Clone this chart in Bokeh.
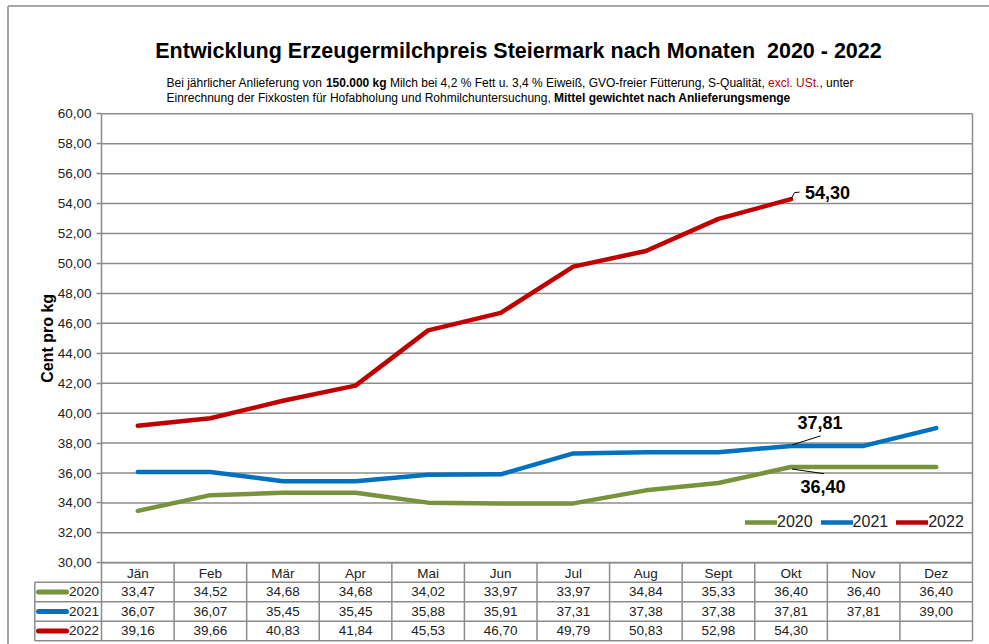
from bokeh.plotting import figure
from bokeh.models import (Range1d, FixedTicker, CustomJSTickFormatter, Label, Legend,
                          LegendItem, LinearAxis, ColumnDataSource)
from bokeh.core.properties import value
from bokeh.embed import file_html
from bokeh.resources import INLINE
import math

# ---------------- data ----------------
months = ["Jän", "Feb", "Mär", "Apr", "Mai", "Jun", "Jul", "Aug", "Sept", "Okt", "Nov", "Dez"]
years = ["2020", "2021", "2022"]
p2020 = [33.47, 34.52, 34.68, 34.68, 34.02, 33.97, 33.97, 34.84, 35.33, 36.40, 36.40, 36.40]
p2021 = [36.07, 36.07, 35.45, 35.45, 35.88, 35.91, 37.31, 37.38, 37.38, 37.81, 37.81, 39.00]
p2022 = [39.16, 39.66, 40.83, 41.84, 45.53, 46.70, 49.79, 50.83, 52.98, 54.30]
y_ticks = list(range(30, 62, 2))
title_text = "Entwicklung Erzeugermilchpreis Steiermark nach Monaten\u00a0 2020 - 2022"
sub1 = [("Bei jährlicher Anlieferung von ", "normal", "black"),
        ("150.000 kg", "bold", "black"),
        (" Milch bei 4,2 % Fett u. 3,4 % Eiweiß, GVO-freier Fütterung, S-Qualität, ", "normal", "black"),
        ("excl. USt.", "normal", "#C00000"),
        (", unter", "normal", "black")]
sub2 = [("Einrechnung der Fixkosten für Hofabholung und Rohmilchuntersuchung, ", "normal", "black"),
        ("Mittel gewichtet nach Anlieferungsmenge", "bold", "black")]
y_label = "Cent pro kg"

series = [p2020, p2021, p2022]
colors = ["#77933C", "#0070C0", "#C00000"]

# ---------------- layout constants (pixels) ----------------
W, H = 989, 644
LEFT, RIGHT_PX = 101.0, 972.0
TOP_PX, BOT_PX = 113.3, 562.3
PXU = (RIGHT_PX - LEFT) / 12.0
PYU = (BOT_PX - TOP_PX) / 30.0
FONT = "Liberation Sans"
GRID = "#8c8c8c"
BORDER = "#a6a6a6"


def xu(px):
    return -0.5 + (px - LEFT) / PXU


def yu(py):
    return 60 - (py - TOP_PX) / PYU


REG = {' ': 278, '%': 889, ',': 278, '-': 333, '.': 278,
       'A': 667, 'B': 667, 'E': 667, 'F': 611, 'G': 778, 'H': 722, 'M': 833, 'O': 778, 'Q': 778,
       'R': 722, 'S': 667, 'U': 722, 'V': 667,
       'a': 556, 'b': 556, 'c': 500, 'd': 556, 'e': 556, 'f': 278, 'g': 556, 'h': 556, 'i': 222,
       'j': 222, 'k': 500, 'l': 222, 'm': 833, 'n': 556, 'o': 556, 'p': 556, 'q': 556, 'r': 333,
       's': 500, 't': 278, 'u': 556, 'v': 500, 'w': 722, 'x': 500, 'y': 500, 'z': 500,
       'ä': 556, 'ü': 556, 'ö': 556, 'ß': 611}
BLD = {' ': 278, '.': 278, ',': 278, '-': 333, 'A': 722, 'M': 833, 'E': 667, 'S': 667,
       'a': 556, 'b': 611, 'c': 556, 'd': 611, 'e': 556, 'f': 333, 'g': 611, 'h': 611, 'i': 278,
       'k': 556, 'l': 278, 'm': 889, 'n': 611, 'o': 611, 'r': 389, 's': 556, 't': 333, 'u': 611,
       'w': 778}


def text_w(s, style, size):
    tab = BLD if style == "bold" else REG
    return sum(tab.get(c, 556) for c in s) * size / 1000.0


def fmt(v):
    return f"{v:.2f}".replace(".", ",")


# ---------------- figure: frame covers whole canvas ----------------
p = figure(width=W, height=H, output_backend="svg", toolbar_location=None,
           x_range=Range1d(xu(0), xu(W)), y_range=Range1d(yu(H), yu(0)),
           x_axis_location=None, y_axis_location=None,
           min_border=0, min_border_left=0, min_border_right=0, min_border_top=0,
           min_border_bottom=0, background_fill_color="white", border_fill_color="white")
p.outline_line_color = None
p.grid.grid_line_color = None

# horizontal gridlines + right border of the plot area
p.segment(x0=[-0.5] * len(y_ticks), x1=[11.5] * len(y_ticks), y0=y_ticks, y1=y_ticks,
          line_color=GRID, line_width=1.5)
p.segment(x0=[11.5], x1=[11.5], y0=[30], y1=[60], line_color=GRID, line_width=1.5)

# y axis
yax = LinearAxis(fixed_location=-0.5, bounds=(30, 60))
yax.ticker = FixedTicker(ticks=y_ticks)
yax.formatter = CustomJSTickFormatter(code="return tick.toFixed(2).replace('.', ',');")
yax.axis_line_color = GRID
yax.axis_line_width = 1.5
yax.major_tick_line_color = GRID
yax.major_tick_line_width = 1.5
yax.major_tick_in = 0
yax.major_tick_out = 5
yax.minor_tick_line_color = None
yax.major_label_text_font = FONT
yax.major_label_text_font_size = "13.5px"
yax.major_label_text_color = "#222222"
yax.major_label_standoff = 5
p.add_layout(yax, "left")

# x axis (month labels in the header row of the data table)
xax = LinearAxis(fixed_location=30, bounds=(-0.5, 11.5))
xax.ticker = FixedTicker(ticks=list(range(12)))
xax.major_label_overrides = {i: m for i, m in enumerate(months)}
xax.axis_line_color = GRID
xax.axis_line_width = 1.5
xax.major_tick_line_color = None
xax.major_tick_in = 0
xax.major_tick_out = 0
xax.minor_tick_line_color = None
xax.minor_tick_in = 0
xax.minor_tick_out = 0
xax.major_label_text_font = FONT
xax.major_label_text_font_size = "13.5px"
xax.major_label_text_color = "#222222"
xax.major_label_standoff = 3
p.add_layout(xax, "below")

p.add_layout(Label(x=xu(47), y=yu(337.8), text=y_label, angle=math.pi / 2,
                   text_font=FONT, text_font_size="16px", text_font_style="bold",
                   text_align="center", text_baseline="middle", text_color="black"))

# series lines
renderers = []
for vals, col in zip(series, colors):
    r = p.line(list(range(len(vals))), vals, line_color=col, line_width=4.5,
               line_cap="round", line_join="round")
    renderers.append(r)

legend = Legend(items=[LegendItem(label=y, renderers=[r]) for y, r in zip(years, renderers)],
                orientation="horizontal", location=(745, 112), glyph_width=32, glyph_height=20,
                label_standoff=0, spacing=8, padding=0, margin=0,
                border_line_alpha=0, background_fill_alpha=0,
                label_text_font=FONT, label_text_font_size="16px", label_text_color="#222222")
p.add_layout(legend)

# data labels with leader lines (Okt values)
okt = months.index("Okt")
lab_specs = [
    (p2022[okt], 36.5, 7, [(0, 0), (3.5, 6.5), (8.5, 7)]),
    (p2021[okt], 29, 23, [(1, 1), (29.5, 10)]),
    (p2020[okt], 32, -19.5, [(1, -2), (33, -6.7)]),
]
for v, dx, dy, pts in lab_specs:
    p.add_layout(Label(x=okt, y=v, x_offset=dx, y_offset=dy, text=fmt(v), text_font=FONT,
                       text_font_size="18px", text_font_style="bold", text_align="center",
                       text_baseline="middle", text_color="black"))
    p.line([okt + a / PXU for a, b in pts], [v + b / PYU for a, b in pts],
           line_color="black", line_width=1)

# title and subtitle
p.add_layout(Label(x=xu(518), y=yu(50), text=title_text, text_font=FONT,
                   text_font_size="21.5px", text_font_style="bold", text_align="center",
                   text_baseline="middle", text_color="black"))
for segs, py in ((sub1, 82.5), (sub2, 97)):
    cx = 166.0
    for s, st, c in segs:
        core = s.strip(" ")
        lead = len(s) - len(s.lstrip(" "))
        p.add_layout(Label(x=xu(cx + lead * text_w(" ", st, 12)), y=yu(py), text=core,
                           text_font=FONT, text_font_size="12px", text_font_style=st,
                           text_align="left", text_baseline="middle", text_color=c))
        cx += text_w(s, st, 12)

# outer border (left and top edges)
p.segment(x0=[xu(7.5), xu(7.5)], x1=[xu(7.5), xu(W + 5)], y0=[yu(5.5), yu(5.5)],
          y1=[yu(H + 5), yu(5.5)], line_color=BORDER, line_width=2)

# ---------------- data table ----------------
RH = 19.5
row_top_px = 581.7
hy = [yu(row_top_px + RH * i) for i in range(4)]
t_left = xu(34.3)
p.segment(x0=[t_left] * 4, x1=[11.5] * 4, y0=hy, y1=hy, line_color=GRID, line_width=1.5)
bx = [k - 0.5 for k in range(13)]
p.segment(x0=bx, x1=bx, y0=[30] * len(bx), y1=[hy[-1]] * len(bx),
          line_color=GRID, line_width=1.5)
p.segment(x0=[t_left], x1=[t_left], y0=[hy[0]], y1=[hy[-1]], line_color=GRID, line_width=1.5)

tx, ty, tt = [], [], []
for i, vals in enumerate(series):
    for j, v in enumerate(vals):
        tx.append(j)
        ty.append(yu(row_top_px + RH * i + RH / 2))
        tt.append(fmt(v))
p.text(x="x", y="y", text="t", source=ColumnDataSource(dict(x=tx, y=ty, t=tt)),
       text_font=value(FONT), text_font_size=value("13.5px"), text_color="#222222",
       text_align="center", text_baseline="middle")

ly = [yu(row_top_px + RH * i + RH / 2) for i in range(3)]
p.segment(x0=[xu(38)] * 3, x1=[xu(66)] * 3, y0=ly, y1=ly, line_color=colors,
          line_width=5, line_cap="round")
p.text(x=[xu(98.5)] * 3, y=ly, text=years, text_font=value(FONT),
       text_font_size=value("13.5px"), text_color="#222222", text_align="right",
       text_baseline="middle")

open("out.html", "w").write(file_html(p, INLINE))
